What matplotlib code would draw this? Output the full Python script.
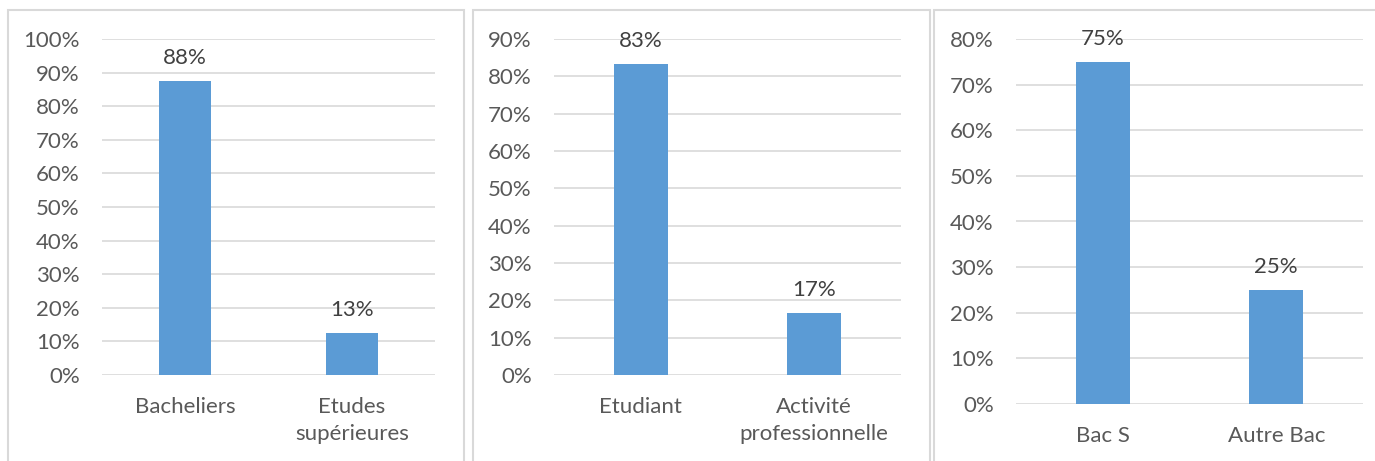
import matplotlib
matplotlib.use("Agg")
import matplotlib.pyplot as plt
from matplotlib.patches import Rectangle
from matplotlib.ticker import MultipleLocator, FuncFormatter

plt.rcParams['font.family'] = ['Lato', 'DejaVu Sans']

# ---- data ----
cats1 = ["Bacheliers", "Etudes\nsupérieures"]
vals1 = [0.875, 0.125]
labels1 = ["88%", "13%"]

cats2 = ["Etudiant", "Activité\nprofessionnelle"]
vals2 = [0.8333, 0.1667]
labels2 = ["83%", "17%"]

cats3 = ["Bac S", "Autre Bac"]
vals3 = [0.75, 0.25]
labels3 = ["75%", "25%"]

ymax = [1.0, 0.9, 0.8]

W, H = 1375, 461
fig = plt.figure(figsize=(W / 100, H / 100), dpi=100)
fig.patch.set_facecolor("white")

BAR = "#5b9bd5"
GRID = "#d9d9d9"
TICK = "#595959"
LAB = "#404040"
FS = 16

# panel frames (pixels: left, right)
frames = [(8, 464), (473, 930), (934, 1378)]
for l, r in frames:
    fig.patches.append(Rectangle((l / W, -0.05), (r - l) / W, (H - 10) / H + 0.05,
                                 transform=fig.transFigure, fill=False,
                                 edgecolor=GRID, linewidth=1.5))

# axes boxes in pixels: left, right, top, bottom
boxes = [(102, 435, 39, 375), (554, 901, 39, 375), (1016, 1363, 39, 404)]
data = [(cats1, vals1, labels1), (cats2, vals2, labels2), (cats3, vals3, labels3)]

for (l, r, t, b), (cats, vals, labs), ym in zip(boxes, data, ymax):
    ax = fig.add_axes([l / W, 1 - b / H, (r - l) / W, (b - t) / H])
    x = list(range(len(cats)))
    ax.bar(x, vals, width=0.31, color=BAR, zorder=3)
    ax.set_xlim(-0.5, len(cats) - 0.5)
    ax.set_ylim(0, ym)
    ax.yaxis.set_major_locator(MultipleLocator(0.1))
    ax.yaxis.set_major_formatter(FuncFormatter(lambda v, p: f"{v*100:.0f}%"))
    ax.grid(axis="y", color=GRID, linewidth=1.2, zorder=0)
    ax.set_axisbelow(True)
    for s in ax.spines.values():
        s.set_visible(False)
    ax.set_xticks(x)
    ax.set_xticklabels(cats, linespacing=1.45)
    ax.tick_params(axis="both", length=0, labelsize=FS, colors=TICK)
    ax.tick_params(axis="y", pad=16)
    ax.tick_params(axis="x", pad=16)
    for xi, v, s in zip(x, vals, labs):
        ax.annotate(s, (xi, v), xytext=(0, 9), textcoords="offset points",
                    ha="center", va="bottom", fontsize=FS, color=LAB,
                    annotation_clip=False)

fig.savefig("out.png", dpi=100, facecolor="white")
